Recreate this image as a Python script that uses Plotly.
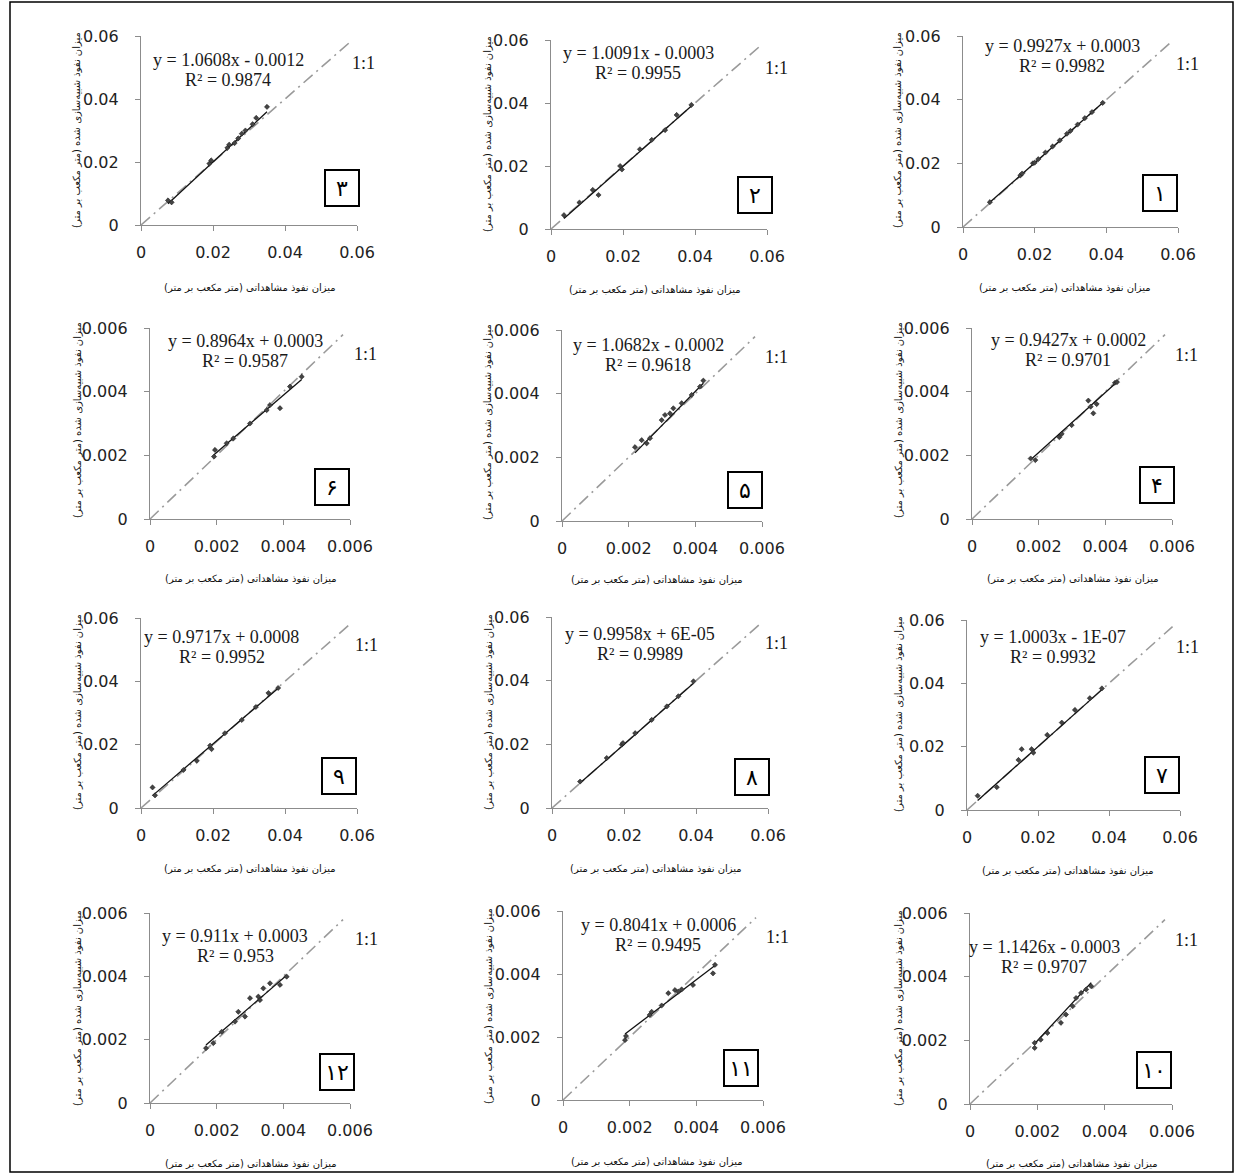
import plotly.graph_objects as go

W, H = 1235, 1174

# ---------------- data ----------------
panel_labels = ["۱", "۲", "۳", "۴", "۵", "۶", "۷", "۸", "۹", "۱۰", "۱۱", "۱۲"]
equations = ["y = 0.9927x + 0.0003", "y = 1.0091x - 0.0003", "y = 1.0608x - 0.0012",
             "y = 0.9427x + 0.0002", "y = 1.0682x - 0.0002", "y = 0.8964x + 0.0003",
             "y = 1.0003x - 1E-07", "y = 0.9958x + 6E-05", "y = 0.9717x + 0.0008",
             "y = 1.1426x - 0.0003", "y = 0.8041x + 0.0006", "y = 0.911x + 0.0003"]
r2_texts = ["R² = 0.9982", "R² = 0.9955", "R² = 0.9874", "R² = 0.9701", "R² = 0.9618", "R² = 0.9587",
            "R² = 0.9932", "R² = 0.9989", "R² = 0.9952", "R² = 0.9707", "R² = 0.9495", "R² = 0.953"]
slopes = [0.9927, 1.0091, 1.0608, 0.9427, 1.0682, 0.8964, 1.0003, 0.9958, 0.9717, 1.1426, 0.8041, 0.911]
intercepts = [0.0003, -0.0003, -0.0012, 0.0002, -0.0002, 0.0003, -1e-07, 6e-05, 0.0008, -0.0003, 0.0006, 0.0003]

obs1 = [0.0075, 0.016, 0.0165, 0.0195, 0.020, 0.021, 0.023, 0.025, 0.027, 0.029, 0.030, 0.032, 0.034, 0.036, 0.039]
sim1 = [0.0078, 0.0162, 0.0168, 0.0200, 0.0202, 0.0213, 0.0234, 0.0253, 0.0272, 0.0293, 0.0302, 0.0322, 0.0342, 0.0361, 0.0390]
obs2 = [0.0036, 0.0079, 0.0116, 0.0132, 0.0192, 0.0197, 0.0247, 0.0280, 0.0317, 0.0349, 0.0390]
sim2 = [0.0044, 0.0084, 0.0124, 0.0108, 0.0200, 0.0189, 0.0253, 0.0283, 0.0314, 0.0362, 0.0394]
obs3 = [0.0075, 0.0085, 0.0190, 0.0195, 0.0240, 0.0245, 0.0260, 0.0270, 0.0280, 0.0290, 0.0310, 0.0320, 0.0350]
sim3 = [0.0078, 0.0072, 0.0195, 0.0205, 0.0245, 0.0255, 0.0260, 0.0275, 0.0290, 0.0300, 0.0320, 0.0340, 0.0375]
obs4 = [0.00176, 0.0019, 0.00262, 0.00269, 0.00299, 0.00349, 0.00356, 0.00364, 0.00374, 0.00429, 0.00435]
sim4 = [0.0019, 0.00185, 0.00257, 0.00267, 0.00295, 0.00372, 0.00353, 0.00332, 0.00361, 0.00428, 0.0043]
obs5 = [0.00219, 0.00239, 0.00254, 0.00264, 0.00299, 0.00309, 0.00324, 0.00334, 0.00359, 0.00389, 0.00414, 0.00424]
sim5 = [0.00232, 0.00254, 0.00244, 0.0026, 0.00317, 0.00333, 0.00338, 0.00354, 0.0037, 0.00396, 0.00422, 0.00441]
obs6 = [0.00192, 0.00195, 0.0023, 0.0025, 0.0030, 0.0035, 0.0036, 0.0039, 0.0042, 0.00455]
sim6 = [0.00196, 0.00217, 0.00238, 0.00253, 0.0030, 0.00342, 0.00358, 0.00348, 0.00416, 0.00447]
obs7 = [0.0030, 0.0084, 0.0145, 0.0154, 0.0182, 0.0187, 0.0226, 0.0267, 0.0304, 0.0346, 0.0380]
sim7 = [0.0045, 0.0072, 0.0158, 0.0192, 0.0192, 0.0181, 0.0237, 0.0276, 0.0316, 0.0353, 0.0384]
obs8 = [0.0078, 0.0152, 0.0194, 0.0197, 0.0231, 0.0277, 0.0319, 0.0351, 0.0393]
sim8 = [0.0083, 0.0157, 0.0199, 0.0204, 0.0235, 0.0277, 0.0319, 0.0351, 0.0398]
obs9 = [0.0032, 0.0039, 0.0118, 0.0155, 0.0192, 0.0196, 0.0233, 0.0280, 0.0319, 0.0354, 0.0381]
sim9 = [0.0065, 0.0040, 0.0120, 0.0149, 0.0197, 0.0186, 0.0236, 0.0278, 0.0319, 0.0363, 0.0379]
obs10 = [0.00192, 0.00192, 0.0021, 0.0023, 0.0027, 0.00285, 0.00305, 0.00315, 0.0033, 0.00345, 0.0036]
sim10 = [0.00176, 0.00192, 0.00202, 0.00223, 0.00255, 0.00281, 0.00307, 0.00333, 0.00349, 0.0036, 0.0037]
obs11 = [0.00186, 0.00189, 0.0026, 0.00266, 0.00296, 0.00316, 0.00336, 0.00346, 0.00356, 0.0039, 0.0045, 0.00456]
sim11 = [0.0019, 0.00203, 0.0027, 0.0028, 0.0030, 0.00339, 0.00349, 0.00344, 0.00351, 0.00365, 0.00402, 0.00429]
obs12 = [0.00168, 0.0019, 0.00215, 0.00255, 0.00265, 0.00285, 0.0030, 0.00325, 0.0033, 0.0034, 0.0036, 0.0039, 0.0041]
sim12 = [0.00173, 0.00189, 0.00225, 0.00257, 0.00288, 0.00273, 0.00331, 0.00336, 0.00325, 0.00362, 0.00378, 0.00373, 0.00399]

observed = [obs1, obs2, obs3, obs4, obs5, obs6, obs7, obs8, obs9, obs10, obs11, obs12]
simulated = [sim1, sim2, sim3, sim4, sim5, sim6, sim7, sim8, sim9, sim10, sim11, sim12]

ticks_big = [0, 0.02, 0.04, 0.06]
ticks_big_text = ["0", "0.02", "0.04", "0.06"]
ticks_small = [0, 0.002, 0.004, 0.006]
ticks_small_text = ["0", "0.002", "0.004", "0.006"]

x_title = "میزان نفوذ مشاهداتی (متر مکعب بر متر)"
y_title = "میزان نفوذ شبیه‌سازی شده (متر مکعب بر متر)"

# ---------------- layout geometry (pixels) ----------------
# plot box: x0, x1, yTop, yBot
boxes = [
    (963, 1178, 36, 227), (551, 767, 40, 229), (141, 357, 36, 225),
    (972, 1172, 328, 519), (562, 762, 330, 521), (150, 350, 328, 519),
    (967, 1180, 620, 810), (552, 768, 617, 808), (141, 357, 618, 808),
    (970, 1172, 913, 1104), (563, 763, 911, 1100), (150, 350, 913, 1103),
]
eq_pos = [(1062, 46), (638, 53), (228, 60), (1068, 340), (648, 345), (245, 341),
          (1053, 637), (640, 634), (222, 637), (1044, 947), (658, 925), (235, 936)]
one_pos = [(1187, 64), (776, 68), (364, 63), (1186, 355), (776, 357), (365, 354),
           (1187, 647), (776, 643), (366, 645), (1186, 940), (777, 937), (366, 939)]
lab_pos = [(1160, 193), (755, 195), (342, 188), (1157, 485), (745, 490), (332, 487),
           (1162, 775), (752, 777), (339, 776), (1154, 1070), (741, 1068), (337, 1072)]
xt_pos = [(1065, 288), (655, 290), (250, 287), (1073, 578), (657, 580), (251, 578),
          (1068, 870), (656, 868), (250, 868), (1072, 1163), (657, 1161), (251, 1163)]
yt_pos = [(898, 130), (488, 134), (77, 130), (898, 420), (488, 422), (77, 420),
          (898, 714), (488, 712), (77, 712), (898, 1008), (488, 1006), (77, 1008)]


def px(x):
    return x / W


def py(y):
    return 1 - y / H


fig = go.Figure()
annotations = []
axis_color = "#8c8c8c"
tick_font = dict(family="DejaVu Sans", size=16, color="#222222")

for i in range(12):
    k = i + 1
    sfx = "" if k == 1 else str(k)
    x0, x1, yt, yb = boxes[i]
    big = i in (0, 1, 2, 6, 7, 8)
    tv = ticks_big if big else ticks_small
    tt = ticks_big_text if big else ticks_small_text
    top = tv[-1]

    common = dict(range=[0, top], tickmode="array", tickvals=tv, ticktext=tt,
                  showline=True, linecolor=axis_color, linewidth=1.3,
                  ticks="outside", ticklen=5, tickcolor=axis_color, tickwidth=1.3,
                  showgrid=False, zeroline=False, tickfont=tick_font, fixedrange=True,
                  automargin=False)
    fig.layout["xaxis" + sfx] = dict(domain=[px(x0), px(x1)], anchor="y" + sfx,
                                      ticklabelstandoff=8, **common)
    fig.layout["yaxis" + sfx] = dict(domain=[py(yb), py(yt)], anchor="x" + sfx,
                                      ticklabelstandoff=13, **common)

    xa, ya = "x" + sfx, "y" + sfx
    # 1:1 line
    fig.add_trace(go.Scatter(x=[0, top * 0.965], y=[0, top * 0.965], xaxis=xa, yaxis=ya,
                             mode="lines", line=dict(color="#9a9a9a", width=1.6,
                                                     dash="12px,5px,2px,5px"),
                             showlegend=False, hoverinfo="skip"))
    # trend line
    obs = observed[i]
    lo, hi = min(obs), max(obs)
    fig.add_trace(go.Scatter(x=[lo, hi], y=[slopes[i] * lo + intercepts[i], slopes[i] * hi + intercepts[i]],
                             xaxis=xa, yaxis=ya, mode="lines",
                             line=dict(color="#111111", width=1.3),
                             showlegend=False, hoverinfo="skip"))
    # points
    fig.add_trace(go.Scatter(x=obs, y=simulated[i], xaxis=xa, yaxis=ya, mode="markers",
                             marker=dict(symbol="diamond", size=4, color="#444444",
                                         line=dict(width=0.5, color="#111111")),
                             showlegend=False))

    ex, ey = eq_pos[i]
    annotations.append(dict(x=px(ex), y=py(ey), xref="paper", yref="paper",
                            text=equations[i], showarrow=False, xanchor="center", yanchor="middle",
                            font=dict(family="Liberation Serif", size=18, color="#1a1a1a")))
    annotations.append(dict(x=px(ex), y=py(ey + 20), xref="paper", yref="paper",
                            text=r2_texts[i], showarrow=False, xanchor="center", yanchor="middle",
                            font=dict(family="Liberation Serif", size=18, color="#1a1a1a")))
    ox, oy = one_pos[i]
    annotations.append(dict(x=px(ox), y=py(oy), xref="paper", yref="paper", text="1:1",
                            showarrow=False, xanchor="center", yanchor="middle",
                            font=dict(family="Liberation Serif", size=18, color="#1a1a1a")))
    lx, ly = lab_pos[i]
    annotations.append(dict(x=px(lx), y=py(ly), xref="paper", yref="paper", text=panel_labels[i],
                            showarrow=False, xanchor="center", yanchor="middle",
                            width=30, height=32, borderpad=1, bordercolor="#000000", borderwidth=2,
                            bgcolor="white",
                            font=dict(family="DejaVu Sans", size=22, color="#000000")))
    tx, ty = xt_pos[i]
    annotations.append(dict(x=px(tx), y=py(ty), xref="paper", yref="paper", text=x_title,
                            showarrow=False, xanchor="center", yanchor="middle",
                            font=dict(family="DejaVu Sans", size=10, color="#111111")))
    vx, vy = yt_pos[i]
    annotations.append(dict(x=px(vx), y=py(vy), xref="paper", yref="paper", text=y_title,
                            showarrow=False, xanchor="center", yanchor="middle", textangle=-90,
                            font=dict(family="DejaVu Sans", size=10, color="#111111")))

fig.update_layout(
    template="none",
    width=W, height=H, margin=dict(l=0, r=0, t=0, b=0, autoexpand=False),
    paper_bgcolor="white", plot_bgcolor="white",
    annotations=annotations,
    shapes=[dict(type="rect", xref="paper", yref="paper", x0=px(10), x1=px(1233), y0=py(1172), y1=py(2),
                 line=dict(color="#000000", width=1.5))],
)

fig.write_html(
    "out.html",
    config={"displayModeBar": False},
    post_script="document.body.style.margin='0px';document.body.style.padding='0px';"
                "document.documentElement.style.overflow='hidden';",
)
